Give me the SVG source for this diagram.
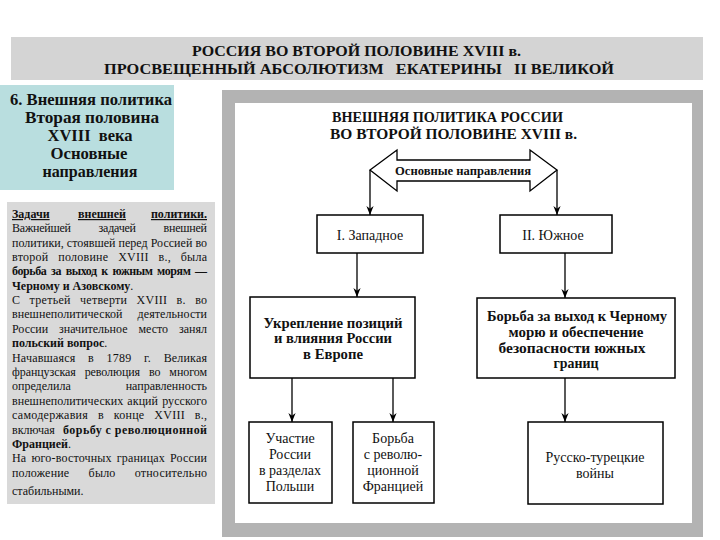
<svg xmlns="http://www.w3.org/2000/svg" width="720" height="540" viewBox="0 0 720 540">
<style>
.serif{font-family:"Liberation Serif","Times New Roman",serif;fill:#111}
.b{font-weight:bold}
.hdr{font-family:"Liberation Serif",serif;font-weight:bold;font-size:15px;fill:#111}
.side{font-family:"Liberation Serif",serif;font-weight:bold;font-size:16px;fill:#111;text-anchor:middle}
.lt{font-family:"Liberation Serif",serif;font-size:12px;fill:#111}
.node rect{fill:#fff;stroke:#000;stroke-width:1.5}
.nt{font-family:"Liberation Serif",serif;font-size:14px;fill:#111;text-anchor:middle}
.conn line{stroke:#000;stroke-width:1.3}
</style>
<defs>
<marker id="ah" viewBox="0 0 10 10" refX="10" refY="5" markerWidth="9" markerHeight="9" markerUnits="userSpaceOnUse" orient="auto">
<path d="M0,1 L10,5 L0,9 L3,5 z" fill="#000"/>
</marker>
</defs>
<rect width="720" height="540" fill="#fff"/>

<!-- header band -->
<g id="header">
<rect x="11" y="37" width="692" height="43" fill="#d4d4d4"/>
<text class="hdr" x="192" y="56" textLength="329" lengthAdjust="spacingAndGlyphs">РОССИЯ ВО ВТОРОЙ ПОЛОВИНЕ XVIII в.</text>
<text class="hdr" x="104" y="74" textLength="510" lengthAdjust="spacingAndGlyphs" xml:space="preserve">ПРОСВЕЩЕННЫЙ АБСОЛЮТИЗМ   ЕКАТЕРИНЫ   II ВЕЛИКОЙ</text>
</g>

<!-- side title -->
<g id="side-title">
<rect x="0" y="85" width="174" height="105" fill="#b9dedf"/>
<text class="side" x="91" y="105" textLength="162" lengthAdjust="spacingAndGlyphs">6. Внешняя политика</text>
<text class="side" x="92" y="123" textLength="134" lengthAdjust="spacingAndGlyphs">Вторая половина</text>
<text class="side" x="90" y="141" textLength="85" lengthAdjust="spacingAndGlyphs" xml:space="preserve">XVIII  века</text>
<text class="side" x="89" y="159" textLength="77" lengthAdjust="spacingAndGlyphs">Основные</text>
<text class="side" x="90" y="177" textLength="95" lengthAdjust="spacingAndGlyphs">направления</text>
</g>

<!-- side text -->
<g id="side-text">
<rect x="7" y="202" width="208" height="302" fill="#d9d9d9"/>
<text class="lt b" x="12" y="218" text-decoration="underline">Задачи</text>
<text class="lt b" x="102" y="218" text-anchor="middle" text-decoration="underline">внешней</text>
<text class="lt b" x="207" y="218" text-anchor="end" text-decoration="underline">политики.</text>
<text class="lt" x="12" y="232" word-spacing="25" textLength="195" lengthAdjust="spacing">Важнейшей задачей внешней</text>
<text class="lt" x="12" y="247" textLength="195" lengthAdjust="spacing">политики, стоявшей перед Россией во</text>
<text class="lt" x="12" y="261" word-spacing="6.5" textLength="195" lengthAdjust="spacing">второй половине XVIII в., была</text>
<text class="lt b" x="12" y="275" word-spacing="2" textLength="195" lengthAdjust="spacing">борьба за выход к южным морям —</text>
<text class="lt" x="12" y="290"><tspan class="b">Черному и Азовскому</tspan>.</text>
<text class="lt" x="12" y="304" word-spacing="6" textLength="195" lengthAdjust="spacing">С третьей четверти XVIII в. во</text>
<text class="lt" x="12" y="318" word-spacing="12" textLength="195" lengthAdjust="spacing">внешнеполитической деятельности</text>
<text class="lt" x="12" y="333" word-spacing="8" textLength="195" lengthAdjust="spacing">России значительное место занял</text>
<text class="lt" x="12" y="347"><tspan class="b">польский вопрос</tspan>.</text>
<text class="lt" x="12" y="362" word-spacing="9.5" textLength="195" lengthAdjust="spacing">Начавшаяся в 1789 г. Великая</text>
<text class="lt" x="12" y="376" word-spacing="6" textLength="195" lengthAdjust="spacing">французская революция во многом</text>
<text class="lt" x="12" y="390">определила</text>
<text class="lt" x="207" y="390" text-anchor="end">направленность</text>
<text class="lt" x="12" y="405" word-spacing="1" textLength="195" lengthAdjust="spacing">внешнеполитических акций русского</text>
<text class="lt" x="12" y="419" word-spacing="6.5" textLength="195" lengthAdjust="spacing">самодержавия в конце XVIII в.,</text>
<text class="lt" x="12" y="434">включая</text>
<text class="lt b" x="63" y="434" textLength="144" lengthAdjust="spacing">борьбу с революционной</text>
<text class="lt" x="12" y="448"><tspan class="b">Францией</tspan>.</text>
<text class="lt" x="12" y="462" word-spacing="2" textLength="195" lengthAdjust="spacing">На юго-восточных границах России</text>
<text class="lt" x="12" y="477" word-spacing="16" textLength="195" lengthAdjust="spacing">положение было относительно</text>
<text class="lt" x="12" y="495">стабильными.</text>
</g>

<!-- diagram frame -->
<g id="frame">
<rect x="222" y="90" width="481" height="447" fill="#b3b3b3"/>
<rect x="235" y="103" width="457" height="420" fill="#fff"/>
<text class="serif b" x="332" y="122" font-size="14" textLength="231" lengthAdjust="spacingAndGlyphs">ВНЕШНЯЯ ПОЛИТИКА РОССИИ</text>
<text class="serif b" x="330" y="139" font-size="14" textLength="247" lengthAdjust="spacingAndGlyphs">ВО ВТОРОЙ ПОЛОВИНЕ XVIII в.</text>
</g>

<g id="directions">
<path d="M370,170 L397,150 L397,160 L530,160 L530,150 L557,170 L530,191 L530,181 L397,181 L397,191 Z" fill="#fff" stroke="#000" stroke-width="1.3"/>
<text class="serif b" x="463" y="175" font-size="13" text-anchor="middle" textLength="136" lengthAdjust="spacingAndGlyphs">Основные направления</text>
</g>

<g class="conn" id="connectors">
<line x1="370" y1="170" x2="370" y2="215" marker-end="url(#ah)"/>
<line x1="557" y1="170" x2="557" y2="215" marker-end="url(#ah)"/>
<line x1="357" y1="253" x2="357" y2="297" marker-end="url(#ah)"/>
<line x1="565" y1="253" x2="565" y2="298" marker-end="url(#ah)"/>
<line x1="292" y1="378" x2="292" y2="422" marker-end="url(#ah)"/>
<line x1="393" y1="378" x2="393" y2="422" marker-end="url(#ah)"/>
<line x1="565" y1="378" x2="565" y2="422" marker-end="url(#ah)"/>
</g>

<g class="node" id="west">
<rect x="317" y="215" width="106" height="38"/>
<text class="nt" x="370" y="240">I. Западное</text>
</g>
<g class="node" id="south">
<rect x="500" y="215" width="112" height="38"/>
<text class="nt" x="553" y="240">II. Южное</text>
</g>
<g class="node" id="europe">
<rect x="250" y="297" width="165" height="81"/>
<text class="nt b" x="333" y="328" textLength="139" lengthAdjust="spacingAndGlyphs">Укрепление позиций</text>
<text class="nt b" x="333" y="343" textLength="118" lengthAdjust="spacingAndGlyphs">и влияния России</text>
<text class="nt b" x="333" y="359" textLength="60" lengthAdjust="spacingAndGlyphs">в Европе</text>
</g>
<g class="node" id="blacksea">
<rect x="477" y="298" width="198" height="80"/>
<text class="nt b" x="577" y="321" textLength="180" lengthAdjust="spacingAndGlyphs">Борьба за выход к Черному</text>
<text class="nt b" x="576" y="337" textLength="135" lengthAdjust="spacingAndGlyphs">морю и обеспечение</text>
<text class="nt b" x="572" y="353" textLength="147" lengthAdjust="spacingAndGlyphs">безопасности южных</text>
<text class="nt b" x="576" y="368" textLength="45" lengthAdjust="spacingAndGlyphs">границ</text>
</g>
<g class="node" id="poland">
<rect x="249" y="422" width="83" height="81"/>
<text class="nt" x="290" y="443">Участие</text>
<text class="nt" x="290" y="459">России</text>
<text class="nt" x="290" y="475">в разделах</text>
<text class="nt" x="290" y="491">Польши</text>
</g>
<g class="node" id="france">
<rect x="353" y="422" width="81" height="81"/>
<text class="nt" x="393" y="443">Борьба</text>
<text class="nt" x="393" y="459">с револю-</text>
<text class="nt" x="393" y="475">ционной</text>
<text class="nt" x="393" y="491">Францией</text>
</g>
<g class="node" id="turkey">
<rect x="528" y="422" width="135" height="82"/>
<text class="nt" x="595" y="462">Русско-турецкие</text>
<text class="nt" x="595" y="478">войны</text>
</g>
</svg>
